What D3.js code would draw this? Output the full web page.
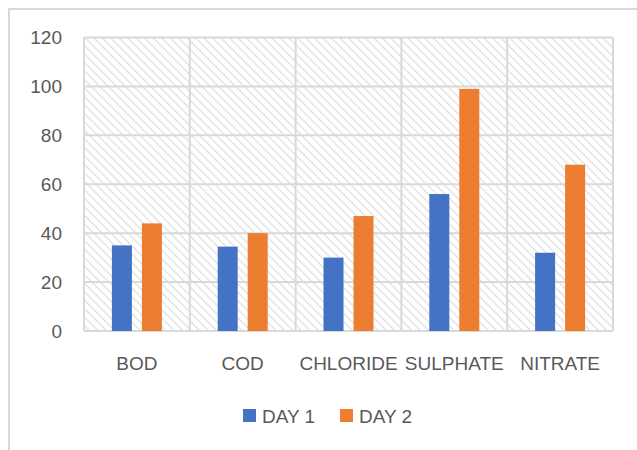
<!DOCTYPE html>
<html>
<head>
<meta charset="utf-8">
<script src="https://cdn.jsdelivr.net/npm/d3@7"></script>
<style>
  body { margin: 0; background: #fff; }
  text { font-family: "Liberation Sans", Arial, sans-serif; fill: #595959; }
</style>
</head>
<body>
<svg class="plot" width="637" height="450"></svg>
<script>
// data
var categories = ["BOD", "COD", "CHLORIDE", "SULPHATE", "NITRATE"];
var day1 = [35, 34.5, 30, 56, 32];
var day2 = [44, 40, 47, 99, 68];
var seriesNames = ["DAY 1", "DAY 2"];
var seriesColors = ["#4472c4", "#ed7d31"];
var yTicks = [0, 20, 40, 60, 80, 100, 120];

var svg = d3.select(".plot"),
    margin = {top: 37.5, right: 24, bottom: 119, left: 84},
    width = +svg.attr("width") - margin.left - margin.right,
    height = +svg.attr("height") - margin.top - margin.bottom;

// outer chart frame (cut off at right and bottom)
svg.append("path")
    .attr("d", "M9,450 V9 H637")
    .attr("fill", "none")
    .attr("stroke", "#d9d9d9")
    .attr("stroke-width", 2);

// hatch pattern for plot area
var defs = svg.append("defs");
var pat = defs.append("pattern")
    .attr("id", "hatch")
    .attr("patternUnits", "userSpaceOnUse")
    .attr("width", 6)
    .attr("height", 6)
    .attr("patternTransform", "rotate(-45)");
pat.append("rect").attr("width", 6).attr("height", 6).attr("fill", "#fff");
pat.append("line")
    .attr("x1", 0).attr("y1", 0).attr("x2", 0).attr("y2", 6)
    .attr("stroke", "#dcdcdc")
    .attr("stroke-width", 2.2);

var x = d3.scaleBand().domain(categories).range([0, width]);
var x1 = d3.scaleBand().domain(seriesNames).range([0, 50]).paddingInner(1 / 3);
var y = d3.scaleLinear().domain([0, 120]).range([height, 0]);

var g = svg.append("g")
    .attr("transform", "translate(" + margin.left + "," + margin.top + ")");

g.append("rect")
    .attr("width", width)
    .attr("height", height)
    .attr("fill", "url(#hatch)");

// horizontal gridlines
g.selectAll(".hgrid")
    .data(yTicks)
    .enter()
    .append("line")
    .attr("x1", 0).attr("x2", width)
    .attr("y1", function(d) { return y(d); })
    .attr("y2", function(d) { return y(d); })
    .attr("stroke", "#d9d9d9")
    .attr("stroke-width", 2);

// vertical gridlines at category edges
var edges = categories.map(function(c) { return x(c); }).concat([width]);
g.selectAll(".vgrid")
    .data(edges)
    .enter()
    .append("line")
    .attr("x1", function(d) { return d; })
    .attr("x2", function(d) { return d; })
    .attr("y1", 0).attr("y2", height)
    .attr("stroke", "#d9d9d9")
    .attr("stroke-width", 2);

// bars
var rows = categories.map(function(c, i) {
  return {cat: c, values: [day1[i], day2[i]]};
});

var grp = g.selectAll(".cat-g")
    .data(rows)
    .enter()
    .append("g")
    .attr("transform", function(d) {
      return "translate(" + (x(d.cat) + x.bandwidth() / 2 - 25) + ",0)";
    });

grp.selectAll("rect")
    .data(function(d) { return d.values; })
    .enter()
    .append("rect")
    .attr("x", function(d, i) { return x1(seriesNames[i]); })
    .attr("width", x1.bandwidth())
    .attr("y", function(d) { return y(d); })
    .attr("height", function(d) { return height - y(d); })
    .attr("fill", function(d, i) { return seriesColors[i]; });

// y tick labels
g.selectAll(".ylab")
    .data(yTicks)
    .enter()
    .append("text")
    .attr("x", -22)
    .attr("y", function(d) { return y(d); })
    .attr("dy", "0.35em")
    .attr("text-anchor", "end")
    .style("font-size", "19px")
    .text(function(d) { return d; });

// x category labels
g.selectAll(".xlab")
    .data(categories)
    .enter()
    .append("text")
    .attr("x", function(d) { return x(d) + x.bandwidth() / 2; })
    .attr("y", height + 32)
    .attr("dy", "0.35em")
    .attr("text-anchor", "middle")
    .style("font-size", "19px")
    .text(function(d) { return d; });

// legend
var legendX = [243, 340];
var leg = svg.selectAll(".legend")
    .data(seriesNames)
    .enter()
    .append("g")
    .attr("transform", function(d, i) { return "translate(" + legendX[i] + ",409)"; });

leg.append("rect")
    .attr("width", 13).attr("height", 13)
    .attr("fill", function(d, i) { return seriesColors[i]; });

leg.append("text")
    .attr("x", 19)
    .attr("y", 7)
    .attr("dy", "0.35em")
    .style("font-size", "19px")
    .text(function(d) { return d; });
</script>
</body>
</html>
